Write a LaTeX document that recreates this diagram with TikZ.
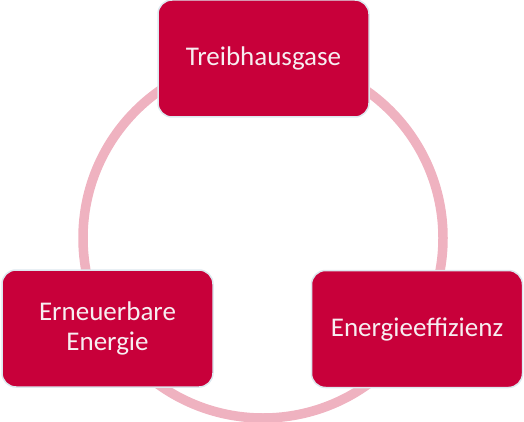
\documentclass[tikz,border=0pt]{standalone}
\usepackage{fontspec}
\setmainfont{Carlito}
\definecolor{boxred}{HTML}{C8003A}
\definecolor{ringpink}{HTML}{EFB2C0}
\definecolor{edgegrey}{HTML}{DDE8EF}
\definecolor{textwhite}{HTML}{F7EEF1}
\begin{document}
\begin{tikzpicture}[x=1pt,y=-1pt,
  cyclebox/.style={draw=edgegrey, line width=1.5pt, fill=boxred, rounded corners=14pt,
    minimum width=211pt, minimum height=117pt, text=textwhite, align=center,
    font=\fontsize{27}{30}\selectfont, inner sep=0pt}]
\useasboundingbox (0,0) rectangle (524,422);
\draw[ringpink, line width=9.5pt] (263,238) circle[radius=180];
\node[cyclebox] (tr) at (263.5,58.5) {Treibhausgase};
\node[cyclebox] (ee) at (417,329) {Energieeffizienz};
\node[cyclebox] (re) at (107.5,328.5) {Erneuerbare\\Energie};
\end{tikzpicture}
\end{document}
